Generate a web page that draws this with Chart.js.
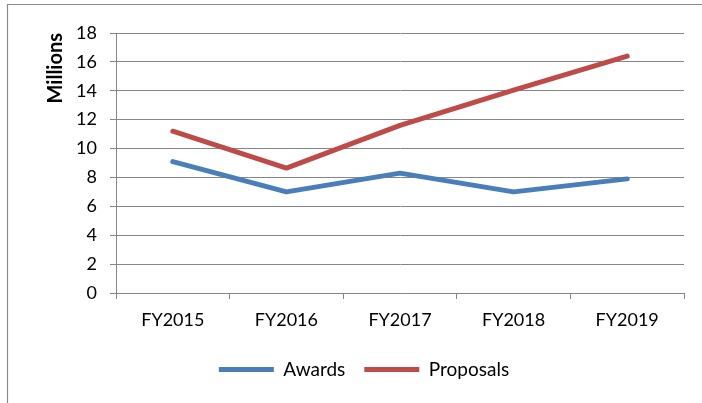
<!DOCTYPE html>
<html>
<head>
<meta charset="utf-8">
<script src="https://cdn.jsdelivr.net/npm/chart.js@4/dist/chart.umd.min.js"></script>
<style>
  html, body { margin: 0; padding: 0; background: #fff; }
  #wrap { position: relative; width: 702px; height: 403px; }
</style>
</head>
<body>
<div id="wrap"><canvas id="c" width="702" height="403"></canvas></div>
<script>
const categories = ['FY2015', 'FY2016', 'FY2017', 'FY2018', 'FY2019'];
const awards = [9.1, 7.0, 8.3, 7.0, 7.9];
const proposals = [11.2, 8.65, 11.6, 14.05, 16.4];
const yTicks = [0, 2, 4, 6, 8, 10, 12, 14, 16, 18];

const FONT = 'Lato, "Open Sans", sans-serif';

const framePlugin = {
  id: 'frame',
  beforeDraw(chart) {
    const ctx = chart.ctx;
    ctx.save();
    ctx.strokeStyle = '#8a8a8a';
    ctx.lineWidth = 1.2;
    ctx.beginPath();
    ctx.moveTo(7.5, 403);
    ctx.lineTo(7.5, 4.5);
    ctx.lineTo(702, 4.5);
    ctx.stroke();
    ctx.restore();
  }
};

new Chart(document.getElementById('c'), {
  type: 'line',
  data: {
    labels: categories,
    datasets: [
      {
        label: 'Awards',
        data: awards,
        borderColor: '#4A7EBB',
        backgroundColor: '#4A7EBB',
        borderWidth: 5,
        borderCapStyle: 'round',
        borderJoinStyle: 'round',
        pointRadius: 0,
        pointHoverRadius: 0,
        tension: 0
      },
      {
        label: 'Proposals',
        data: proposals,
        borderColor: '#BE4B48',
        backgroundColor: '#BE4B48',
        borderWidth: 5,
        borderCapStyle: 'round',
        borderJoinStyle: 'round',
        pointRadius: 0,
        pointHoverRadius: 0,
        tension: 0
      }
    ]
  },
  options: {
    responsive: false,
    animation: false,
    devicePixelRatio: 1,
    layout: { padding: { left: 44, right: 18, top: 33, bottom: 14 } },
    plugins: {
      tooltip: { enabled: false },
      legend: {
        position: 'bottom',
        labels: {
          usePointStyle: true,
          pointStyle: 'line',
          pointStyleWidth: 55,
          boxHeight: 19,
          padding: 19,
          color: '#000',
          font: { family: FONT, size: 19 }
        }
      }
    },
    scales: {
      x: {
        type: 'category',
        offset: true,
        afterFit(scale) { scale.height = 48; },
        grid: {
          offset: true,
          drawOnChartArea: false,
          drawTicks: true,
          tickLength: 6,
          color: '#868686',
          lineWidth: 1
        },
        border: { display: true, color: '#868686', width: 1 },
        ticks: {
          color: '#000',
          padding: 10,
          maxRotation: 0,
          font: { family: FONT, size: 18 }
        }
      },
      y: {
        min: 0,
        max: 18,
        afterFit(scale) { scale.width = 72; },
        afterBuildTicks(scale) { scale.ticks = yTicks.map(v => ({ value: v })); },
        grid: {
          color: '#868686',
          lineWidth: 1,
          drawTicks: true,
          tickLength: 6
        },
        border: { display: true, color: '#868686', width: 1 },
        ticks: {
          color: '#000',
          padding: 13,
          font: { family: FONT, size: 18 }
        },
        title: {
          display: true,
          text: 'Millions',
          align: 'end',
          color: '#000',
          padding: { top: 0, bottom: 0 },
          font: { family: FONT, size: 20, weight: 'bold' }
        }
      }
    }
  },
  plugins: [framePlugin]
});
</script>
</body>
</html>
